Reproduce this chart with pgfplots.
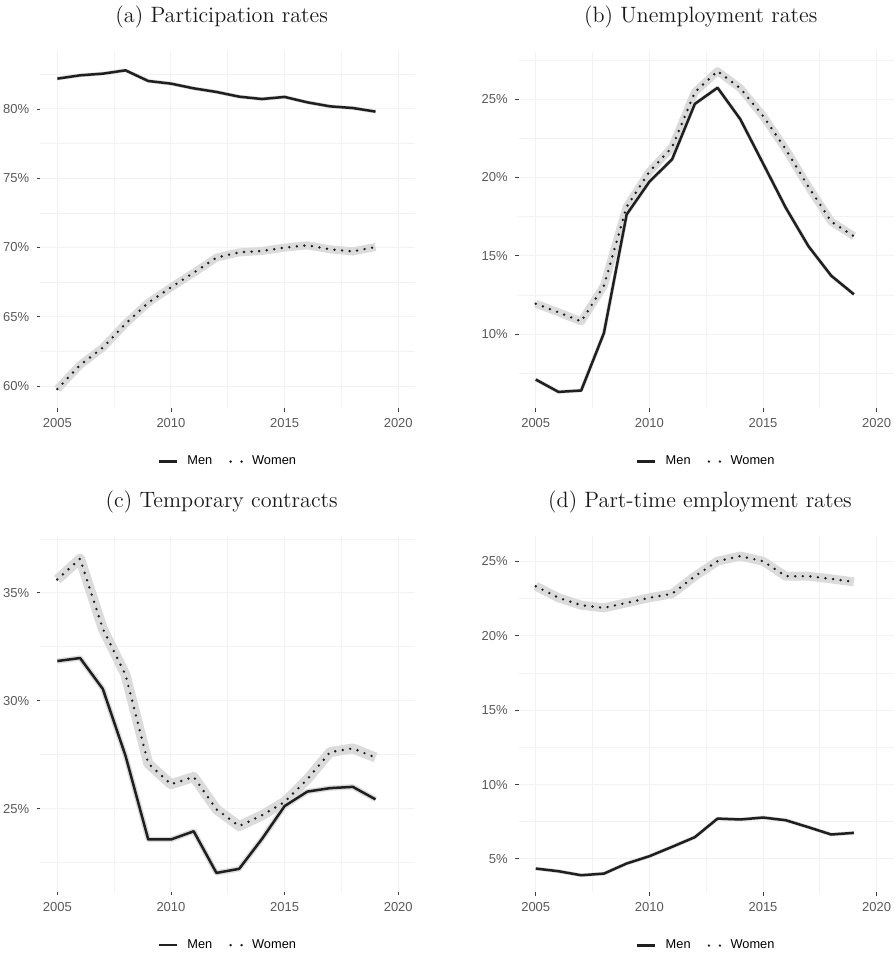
\documentclass[border=0pt]{standalone}
\usepackage{fontspec}
\usepackage{pgfplots}
\pgfplotsset{compat=1.18}
\newfontfamily\arialf{Liberation Sans}
\definecolor{linec}{HTML}{1F1F1F}
\definecolor{ribc}{HTML}{DBDBDB}
\definecolor{gridc}{HTML}{F2F2F2}

\pgfplotsset{
 panel/.style={
   scale only axis, width=187.5pt, height=178pt,
   anchor=north west,
   xmin=2004.25, xmax=2020.75,
   xtick={2005,2010,2015,2020}, xticklabels={2005,2010,2015,2020},
   minor xtick={2007.5,2012.5,2017.5},
   grid=both,
   major grid style={gridc, line width=0.5pt},
   minor grid style={gridc, line width=0.35pt},
   axis line style={draw=none},
   tick align=outside, xtick pos=bottom, ytick pos=left,
   major tick length=1.7pt, minor tick length=0pt,
   tick style={black!75, line width=0.45pt},
   ticklabel style={font=\arialf\fontsize{6.5}{7}\selectfont, text=black!65},
   yticklabel style={xshift=-0.3pt},
   legend style={at={(0.503,-0.15)}, anchor=center, draw=none, fill=none,
     legend columns=2, font=\arialf\fontsize{6.4}{7}\selectfont,
     /tikz/every odd column/.append style={column sep=2.5pt},
     /tikz/every even column/.append style={column sep=6.5pt}},
   legend image code/.code={\draw[##1] (0pt,0pt) -- (9pt,0pt);},
 },
 men/.style={linec, line width=1.25pt, line join=round},
 women/.style={linec, line width=1.35pt, line cap=round, dash pattern=on 0pt off 3.8pt,
   legend image code/.code={\draw[##1, dash pattern=on 0pt off 5.5pt] (1.8pt,0pt) -- (7.4pt,0pt);}},
 ribm/.style={ribc, line width=1.9pt, forget plot, line join=round},
 ribw/.style={ribc, line width=4pt, forget plot, line join=round},
}

\begin{document}
\begin{tikzpicture}
\path[use as bounding box] (0,0) rectangle (447.5pt,477.5pt);

% Panel (a)
\begin{axis}[panel, at={(20.15pt,451.4pt)},
  ymin=58.4, ymax=84.1,
  ytick={60,65,70,75,80}, yticklabels={60\%,65\%,70\%,75\%,80\%},
  minor ytick={62.5,67.5,72.5,77.5,82.5}]
\addplot[ribm] coordinates {(2005,82.19)(2006,82.43)(2007,82.55)(2008,82.79)(2009,82.02)(2010,81.83)(2011,81.49)(2012,81.23)(2013,80.89)(2014,80.72)(2015,80.87)(2016,80.48)(2017,80.19)(2018,80.07)(2019,79.81)};
\addplot[ribw] coordinates {(2005,59.78)(2006,61.52)(2007,62.77)(2008,64.5)(2009,66.02)(2010,67.12)(2011,68.18)(2012,69.27)(2013,69.65)(2014,69.75)(2015,69.99)(2016,70.16)(2017,69.87)(2018,69.72)(2019,70.04)};
\addplot[men] coordinates {(2005,82.19)(2006,82.43)(2007,82.55)(2008,82.79)(2009,82.02)(2010,81.83)(2011,81.49)(2012,81.23)(2013,80.89)(2014,80.72)(2015,80.87)(2016,80.48)(2017,80.19)(2018,80.07)(2019,79.81)};
\addlegendentry{Men}
\addplot[women] coordinates {(2005,59.78)(2006,61.52)(2007,62.77)(2008,64.5)(2009,66.02)(2010,67.12)(2011,68.18)(2012,69.27)(2013,69.65)(2014,69.75)(2015,69.99)(2016,70.16)(2017,69.87)(2018,69.72)(2019,70.04)};
\addlegendentry{Women}
\end{axis}

% Panel (b)
\begin{axis}[panel, at={(259.35pt,451.4pt)},
  ymin=5.27, ymax=28.0,
  ytick={10,15,20,25}, yticklabels={10\%,15\%,20\%,25\%},
  minor ytick={7.5,12.5,17.5,22.5,27.5}]
\addplot[ribm] coordinates {(2005,7.10)(2006,6.31)(2007,6.40)(2008,10.07)(2009,17.64)(2010,19.73)(2011,21.16)(2012,24.70)(2013,25.73)(2014,23.72)(2015,20.90)(2016,18.07)(2017,15.61)(2018,13.73)(2019,12.54)};
\addplot[ribw] coordinates {(2005,11.94)(2006,11.39)(2007,10.81)(2008,13.09)(2009,18.13)(2010,20.37)(2011,21.93)(2012,25.45)(2013,26.79)(2014,25.70)(2015,23.93)(2016,21.80)(2017,19.41)(2018,17.19)(2019,16.25)};
\addplot[men] coordinates {(2005,7.10)(2006,6.31)(2007,6.40)(2008,10.07)(2009,17.64)(2010,19.73)(2011,21.16)(2012,24.70)(2013,25.73)(2014,23.72)(2015,20.90)(2016,18.07)(2017,15.61)(2018,13.73)(2019,12.54)};
\addlegendentry{Men}
\addplot[women] coordinates {(2005,11.94)(2006,11.39)(2007,10.81)(2008,13.09)(2009,18.13)(2010,20.37)(2011,21.93)(2012,25.45)(2013,26.79)(2014,25.70)(2015,23.93)(2016,21.80)(2017,19.41)(2018,17.19)(2019,16.25)};
\addlegendentry{Women}
\end{axis}

% Panel (c)
\begin{axis}[panel, at={(20.15pt,209.65pt)},
  ymin=21.15, ymax=37.65,
  ytick={25,30,35}, yticklabels={25\%,30\%,35\%},
  minor ytick={22.5,27.5,32.5,37.5}]
\addplot[ribm, line width=2.7pt] coordinates {(2005,31.84)(2006,31.98)(2007,30.55)(2008,27.45)(2009,23.57)(2010,23.57)(2011,23.95)(2012,22.02)(2013,22.21)(2014,23.59)(2015,25.12)(2016,25.79)(2017,25.95)(2018,26.01)(2019,25.43)};
\addplot[ribw, line width=5pt] coordinates {(2005,35.62)(2006,36.58)(2007,33.34)(2008,31.20)(2009,27.09)(2010,26.13)(2011,26.47)(2012,24.97)(2013,24.19)(2014,24.69)(2015,25.31)(2016,26.36)(2017,27.62)(2018,27.79)(2019,27.37)};
\addplot[men] coordinates {(2005,31.84)(2006,31.98)(2007,30.55)(2008,27.45)(2009,23.57)(2010,23.57)(2011,23.95)(2012,22.02)(2013,22.21)(2014,23.59)(2015,25.12)(2016,25.79)(2017,25.95)(2018,26.01)(2019,25.43)};
\addlegendentry{Men}
\addplot[women] coordinates {(2005,35.62)(2006,36.58)(2007,33.34)(2008,31.20)(2009,27.09)(2010,26.13)(2011,26.47)(2012,24.97)(2013,24.19)(2014,24.69)(2015,25.31)(2016,26.36)(2017,27.62)(2018,27.79)(2019,27.37)};
\addlegendentry{Women}
\end{axis}

% Panel (d)
\begin{axis}[panel, at={(259.35pt,209.4pt)},
  ymin=2.76, ymax=26.7,
  ytick={5,10,15,20,25}, yticklabels={5\%,10\%,15\%,20\%,25\%},
  minor ytick={7.5,12.5,17.5,22.5}]
\addplot[ribm] coordinates {(2005,4.35)(2006,4.17)(2007,3.90)(2008,4.01)(2009,4.69)(2010,5.18)(2011,5.81)(2012,6.46)(2013,7.71)(2014,7.65)(2015,7.78)(2016,7.60)(2017,7.13)(2018,6.64)(2019,6.75)};
\addplot[ribw, line width=4.5pt] coordinates {(2005,23.34)(2006,22.56)(2007,22.06)(2008,21.88)(2009,22.22)(2010,22.56)(2011,22.83)(2012,24.01)(2013,25.02)(2014,25.36)(2015,25.02)(2016,24.01)(2017,24.01)(2018,23.83)(2019,23.63)};
\addplot[men] coordinates {(2005,4.35)(2006,4.17)(2007,3.90)(2008,4.01)(2009,4.69)(2010,5.18)(2011,5.81)(2012,6.46)(2013,7.71)(2014,7.65)(2015,7.78)(2016,7.60)(2017,7.13)(2018,6.64)(2019,6.75)};
\addlegendentry{Men}
\addplot[women] coordinates {(2005,23.34)(2006,22.56)(2007,22.06)(2008,21.88)(2009,22.22)(2010,22.56)(2011,22.83)(2012,24.01)(2013,25.02)(2014,25.36)(2015,25.02)(2016,24.01)(2017,24.01)(2018,23.83)(2019,23.63)};
\addlegendentry{Women}
\end{axis}

% Titles
\node[font=\fontsize{11.1}{13}\selectfont, text=black!90] at (110.85pt,469pt) {(a) Participation rates};
\node[font=\fontsize{11.1}{13}\selectfont, text=black!90] at (350.4pt,469pt) {(b) Unemployment rates};
\node[font=\fontsize{11.1}{13}\selectfont, text=black!90] at (110.85pt,226.5pt) {(c) Temporary contracts};
\node[font=\fontsize{11.1}{13}\selectfont, text=black!90] at (350pt,226.5pt) {(d) Part-time employment rates};
\end{tikzpicture}
\end{document}
